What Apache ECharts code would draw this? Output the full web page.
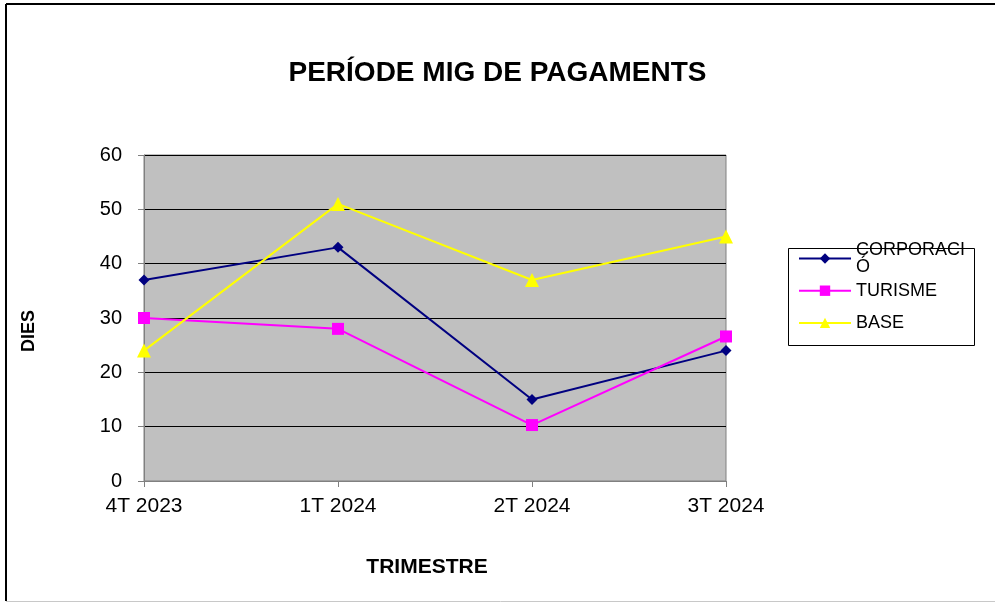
<!DOCTYPE html>
<html>
<head>
<meta charset="utf-8">
<script src="https://cdn.jsdelivr.net/npm/echarts@6/dist/echarts.min.js"></script>
<style>
html,body{margin:0;padding:0;background:#fff;}
#chart{width:995px;height:603px;}
</style>
</head>
<body>
<div id="chart"></div>
<script>
const categories = ['4T 2023', '1T 2024', '2T 2024', '3T 2024'];
const corporacio = [37, 43, 15, 24];
const turisme = [30, 28, 10.3, 26.6];
const base = [24, 51, 37, 45];
const yTicks = [0, 10, 20, 30, 40, 50, 60];

const font = 'Liberation Sans, Arial, sans-serif';
const chart = echarts.init(document.getElementById('chart'), null, {renderer: 'canvas'});

chart.setOption({
  animation: false,
  backgroundColor: '#ffffff',
  title: {
    text: 'PERÍODE MIG DE PAGAMENTS',
    left: 'center',
    top: 59,
    padding: 0,
    textStyle: {fontFamily: font, fontSize: 28, fontWeight: 'bold', color: '#000'}
  },
  graphic: [
    {type: 'line', shape: {x1: 6, y1: 4, x2: 995, y2: 4}, style: {stroke: '#000', lineWidth: 2}, silent: true},
    {type: 'line', shape: {x1: 6, y1: 4, x2: 6, y2: 601}, style: {stroke: '#000', lineWidth: 2}, silent: true},
    {type: 'line', shape: {x1: 6, y1: 601.5, x2: 995, y2: 601.5}, style: {stroke: '#c8c8c8', lineWidth: 1}, silent: true},
    {type: 'rect', shape: {x: 788.5, y: 248.5, width: 186, height: 97}, style: {fill: 'none', stroke: '#000', lineWidth: 1}, silent: true, z: 0}
  ],
  legend: {
    orient: 'vertical',
    left: 798,
    top: 233,
    padding: 0,
    itemGap: -2.3,
    itemWidth: 52,
    itemHeight: 13,
    textStyle: {fontFamily: font, fontSize: 18, color: '#000', lineHeight: 17},
    formatter: function (name) { return name === 'CORPORACIÓ' ? 'CORPORACI\nÓ' : name; },
    data: [
      {name: 'CORPORACIÓ', textStyle: {padding: [17, 0, 0, 0]}},
      {name: 'TURISME', textStyle: {padding: [0, 0, 0, 0]}},
      {name: 'BASE', textStyle: {padding: [17, 0, 17, 0]}}
    ]
  },
  grid: {
    left: 144, right: 269, top: 155, bottom: 122,
    show: true, backgroundColor: '#C0C0C0', borderColor: '#808080', borderWidth: 1
  },
  xAxis: {
    type: 'category',
    data: categories,
    boundaryGap: false,
    name: 'TRIMESTRE',
    nameLocation: 'middle',
    nameGap: 76,
    nameTextStyle: {fontFamily: font, fontSize: 21, fontWeight: 'bold', color: '#000', padding: [0, 16, 0, 0]},
    axisLine: {lineStyle: {color: '#808080', width: 1}},
    axisTick: {show: true, length: 6, inside: false, lineStyle: {color: '#808080'}},
    axisLabel: {fontFamily: font, fontSize: 21, color: '#000', margin: 15},
    splitLine: {show: false}
  },
  yAxis: {
    type: 'value',
    min: yTicks[0],
    max: yTicks[yTicks.length - 1],
    interval: 10,
    name: 'DIES',
    nameLocation: 'middle',
    nameRotate: 90,
    nameGap: 106,
    nameTextStyle: {fontFamily: font, fontSize: 18, fontWeight: 'bold', color: '#000', padding: [0, 26, 0, 0]},
    axisLine: {show: true, lineStyle: {color: '#808080', width: 1}},
    axisTick: {show: true, length: 6, inside: false, lineStyle: {color: '#808080'}},
    axisLabel: {fontFamily: font, fontSize: 20, color: '#000', margin: 22},
    splitLine: {show: true, lineStyle: {color: '#000', width: 1}}
  },
  series: [
    {
      name: 'CORPORACIÓ', type: 'line', data: corporacio,
      symbol: 'diamond', symbolSize: 11,
      lineStyle: {color: '#000080', width: 2},
      itemStyle: {color: '#000080'}
    },
    {
      name: 'TURISME', type: 'line', data: turisme,
      symbol: 'rect', symbolSize: 12,
      lineStyle: {color: '#FF00FF', width: 2},
      itemStyle: {color: '#FF00FF'}
    },
    {
      name: 'BASE', type: 'line', data: base,
      symbol: 'triangle', symbolSize: 14,
      lineStyle: {color: '#FFFF00', width: 2},
      itemStyle: {color: '#FFFF00'}
    }
  ]
});
</script>
</body>
</html>
